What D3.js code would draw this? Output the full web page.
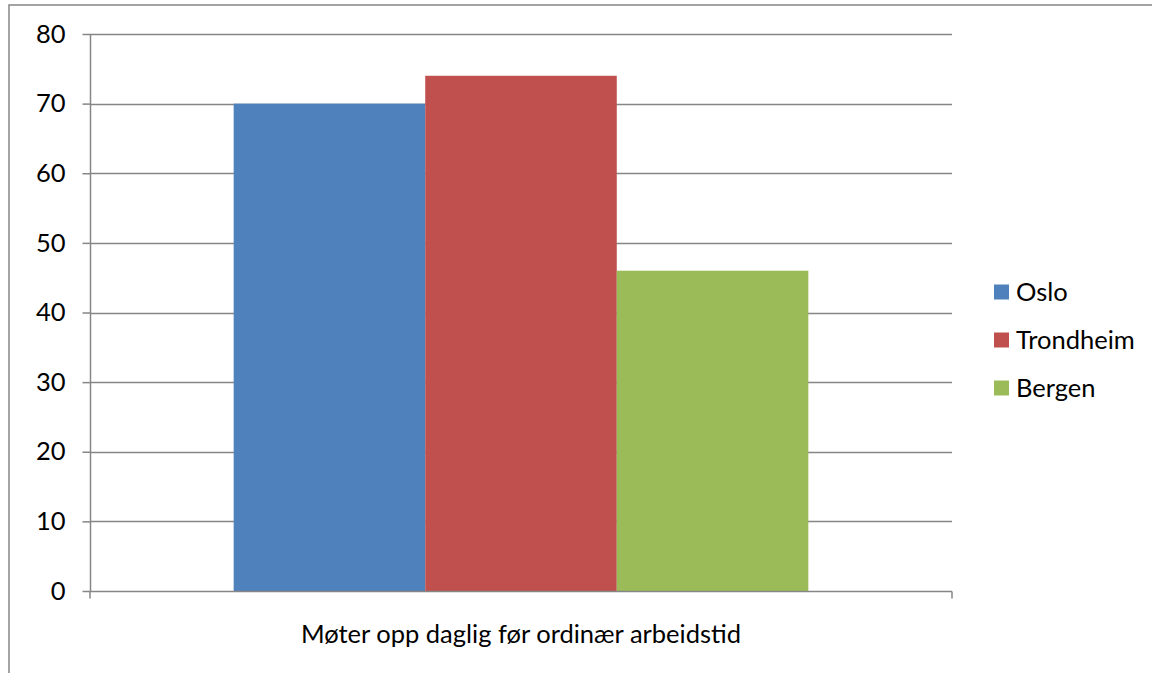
<!DOCTYPE html>
<html>
<head>
<meta charset="utf-8">
<script src="https://cdn.jsdelivr.net/npm/d3@7"></script>
<style>
  html, body { margin: 0; padding: 0; background: #fff; }
  svg { display: block; }
  text { font-family: Lato, "Open Sans", "Liberation Sans", sans-serif; fill: #000; }
</style>
</head>
<body>
<svg id="chart" width="1152" height="673"></svg>
<script>
// Survey answer and the three cities compared
const category = "Møter opp daglig før ordinær arbeidstid";
const seriesNames = ["Oslo", "Trondheim", "Bergen"];
const seriesValues = [70, 74, 46];
const seriesColors = ["#4F81BD", "#C0504D", "#9BBB59"];
const yTicks = [0, 10, 20, 30, 40, 50, 60, 70, 80];

const svg = d3.select("#chart");
const W = 1152, H = 673;
const plot = { left: 90, right: 952, top: 34, bottom: 591 };
const fontSize = 25.5;

// Outer chart frame (runs off the right and bottom edges)
svg.append("rect")
  .attr("x", 9).attr("y", 5)
  .attr("width", W + 20).attr("height", H + 20)
  .attr("fill", "#fff")
  .attr("stroke", "#868686").attr("stroke-width", 1.5);

const x = d3.scaleBand()
  .domain([category])
  .range([plot.left, plot.right])
  .paddingInner(0).paddingOuter(0);

const y = d3.scaleLinear()
  .domain([0, 80])
  .range([plot.bottom, plot.top]);

// Grouped bars inside the single category: gap of 150% of a bar width
const catWidth = x.bandwidth();
const barW = catWidth / (seriesNames.length + 1.5);
const xs = d3.scaleBand()
  .domain(seriesNames)
  .range([x(category) + barW * 0.75, x(category) + catWidth - barW * 0.75])
  .padding(0);

// Horizontal gridlines
svg.append("g")
  .selectAll("line")
  .data(yTicks.filter(d => d > 0))
  .join("line")
  .attr("x1", plot.left).attr("x2", plot.right)
  .attr("y1", d => Math.round(y(d)) + 0.5).attr("y2", d => Math.round(y(d)) + 0.5)
  .attr("stroke", "#868686").attr("stroke-width", 1.5);

// Bars
svg.append("g")
  .selectAll("rect")
  .data(seriesNames.map((n, i) => ({ name: n, value: seriesValues[i], color: seriesColors[i] })))
  .join("rect")
  .attr("x", d => xs(d.name))
  .attr("width", xs.bandwidth())
  .attr("y", d => y(d.value))
  .attr("height", d => y(0) - y(d.value))
  .attr("fill", d => d.color);

// Y axis
const yAxis = d3.axisLeft(y)
  .tickValues(yTicks)
  .tickSize(8)
  .tickPadding(17)
  .tickFormat(d3.format("d"));
const gy = svg.append("g")
  .attr("transform", `translate(${plot.left + 0.5},0)`)
  .call(yAxis);
gy.select(".domain").attr("stroke", "#868686").attr("stroke-width", 1.5)
  .attr("d", `M0,${plot.top}V${plot.bottom}`);
gy.selectAll(".tick line").attr("stroke", "#868686").attr("stroke-width", 1.5);
gy.selectAll(".tick text")
  .style("font-size", fontSize + "px")
  .attr("fill", "#000");

// X axis: baseline with end tick marks
const gx = svg.append("g").attr("transform", `translate(0,${plot.bottom + 0.5})`);
gx.append("line")
  .attr("x1", plot.left).attr("x2", plot.right)
  .attr("stroke", "#868686").attr("stroke-width", 1.5);
gx.selectAll("line.edge")
  .data([plot.left, plot.right])
  .join("line")
  .attr("class", "edge")
  .attr("x1", d => d).attr("x2", d => d)
  .attr("y1", 0).attr("y2", 7)
  .attr("stroke", "#868686").attr("stroke-width", 1.5);
gx.append("text")
  .attr("x", x(category) + catWidth / 2)
  .attr("y", 51)
  .attr("text-anchor", "middle")
  .style("font-size", fontSize + "px")
  .text(category);

// Legend
const legend = svg.append("g").attr("transform", "translate(994,292)");
const items = legend.selectAll("g")
  .data(seriesNames)
  .join("g")
  .attr("transform", (d, i) => `translate(0,${i * 48})`);
items.append("rect")
  .attr("x", 0).attr("y", -7.5)
  .attr("width", 15).attr("height", 15)
  .attr("fill", (d, i) => seriesColors[i]);
items.append("text")
  .attr("x", 22).attr("y", 0)
  .attr("dy", "0.36em")
  .style("font-size", fontSize + "px")
  .text(d => d);
</script>
</body>
</html>
